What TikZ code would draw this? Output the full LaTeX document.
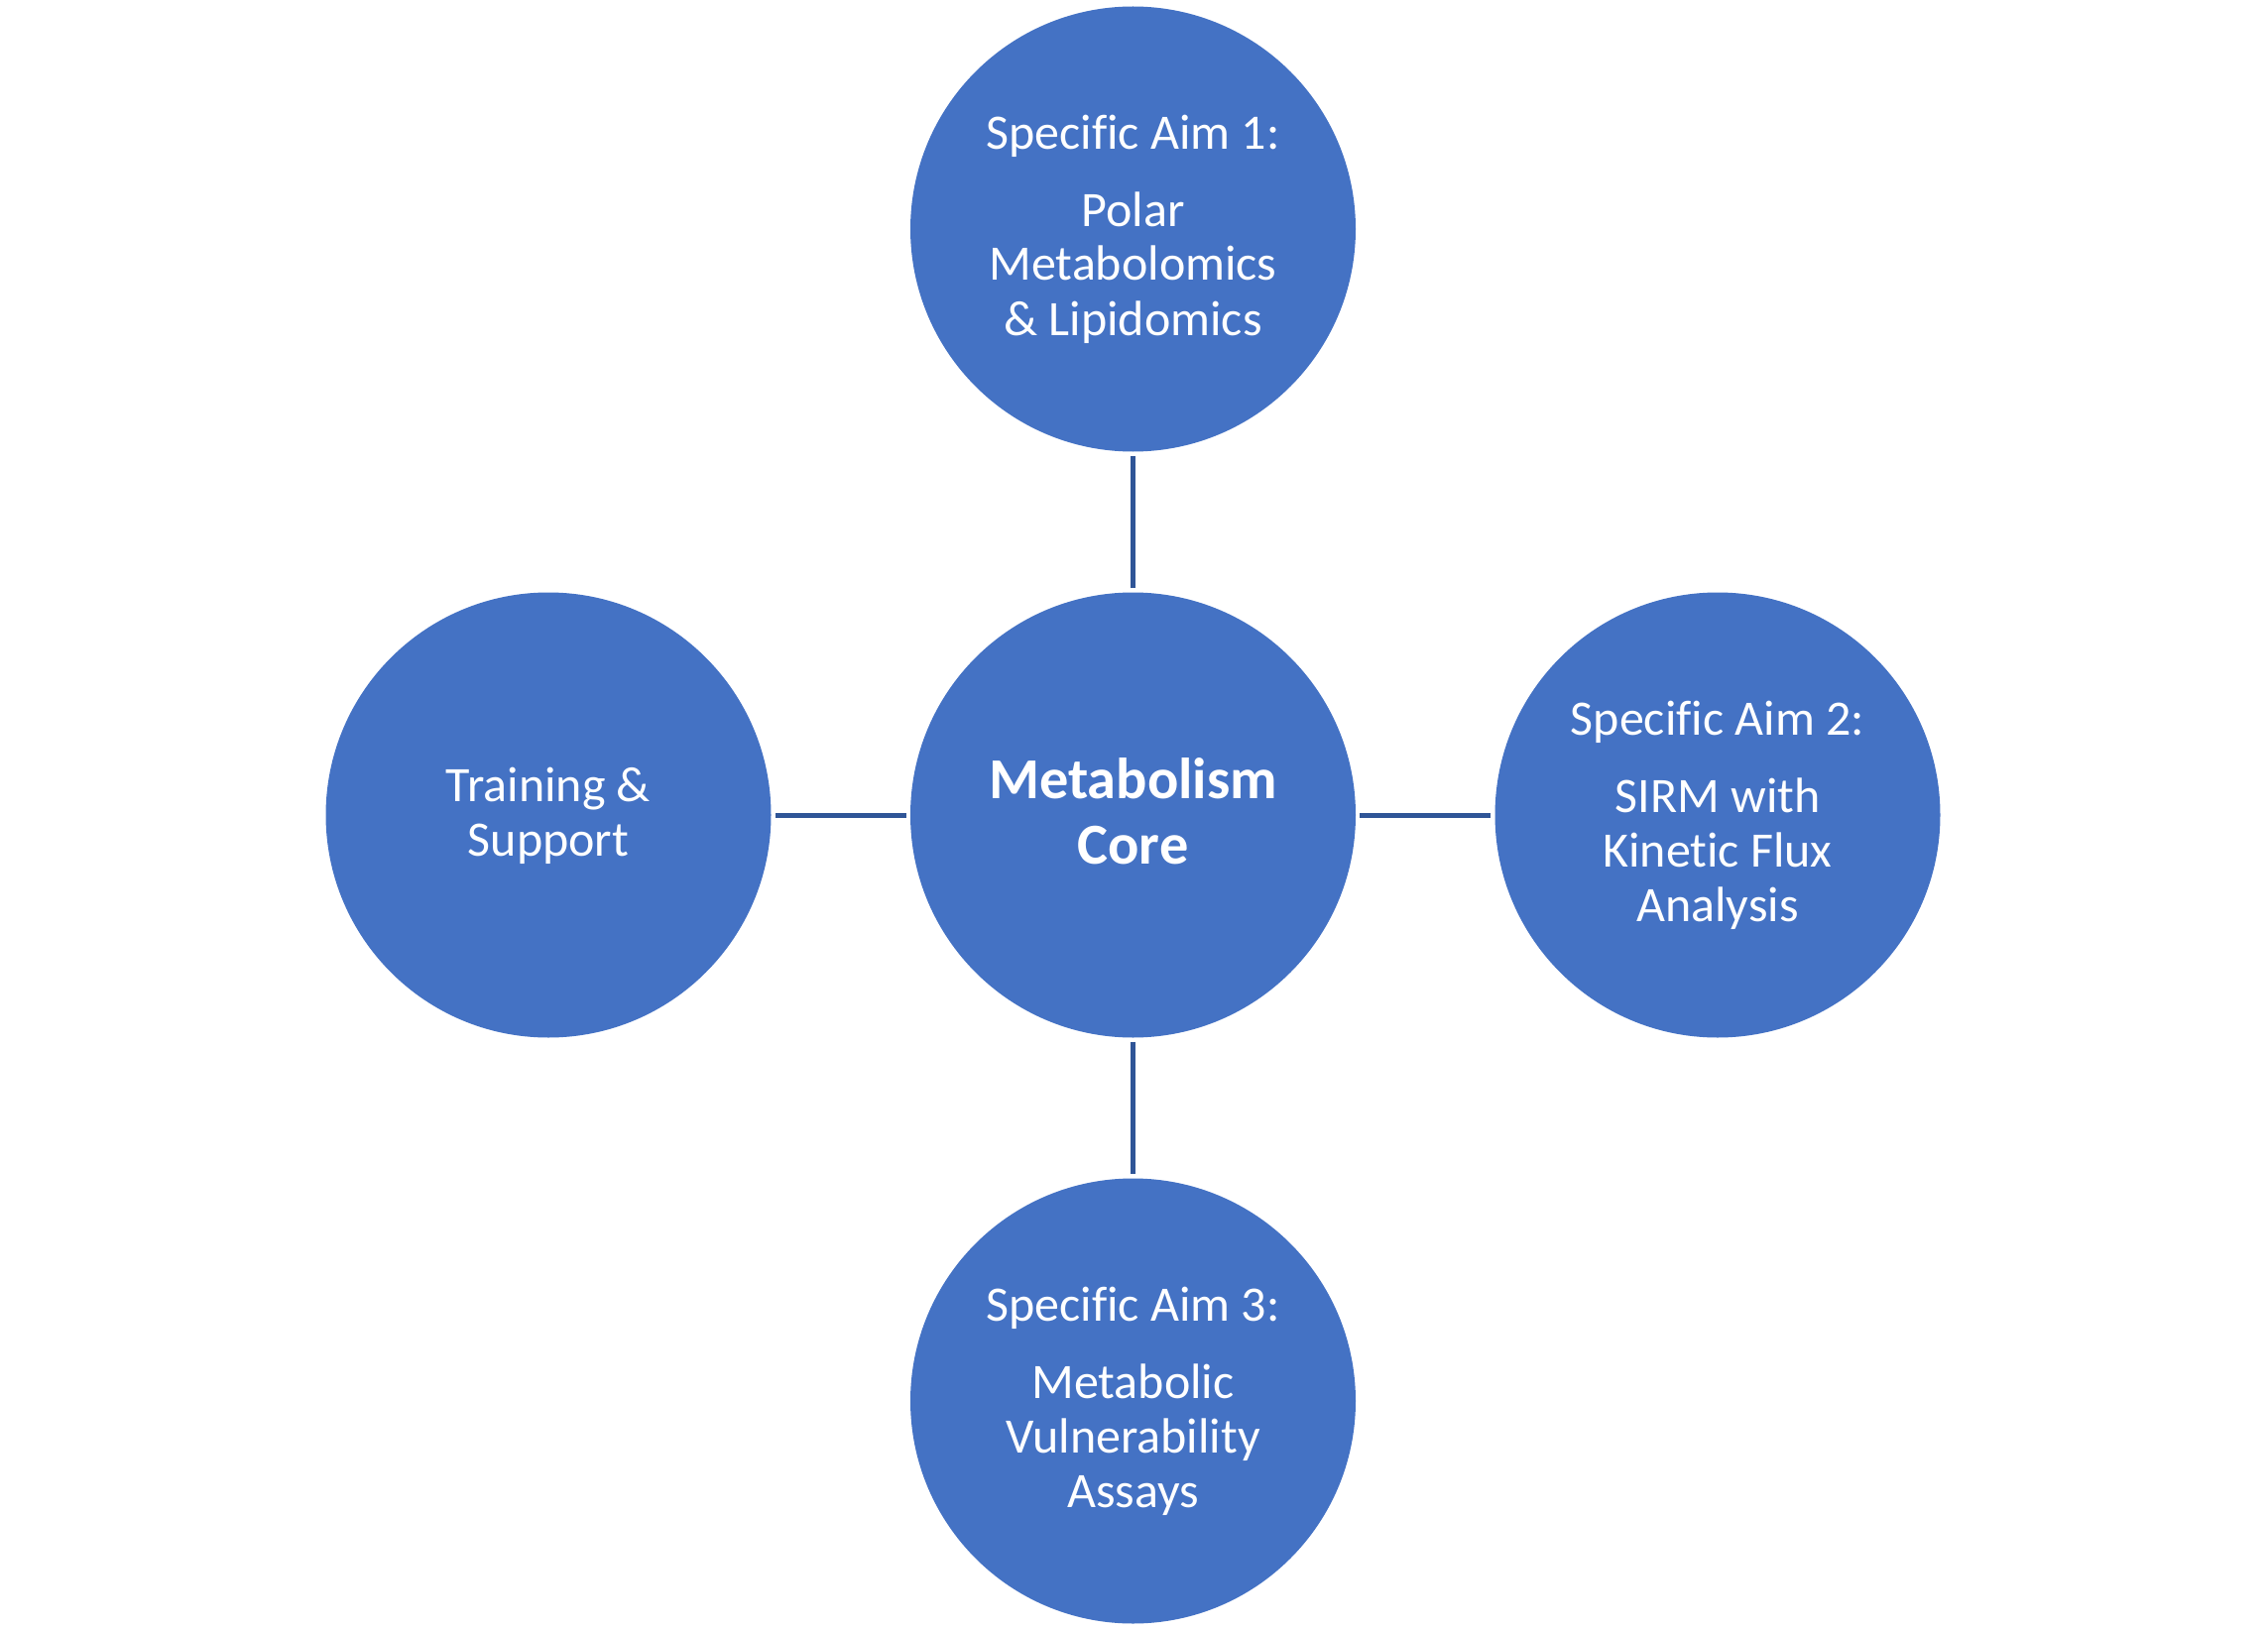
\documentclass[tikz,border=0pt]{standalone}
\usepackage{fontspec}
\setmainfont[Ligatures=NoCommon]{Carlito}
\definecolor{circfill}{HTML}{4472C4}
\definecolor{linkcol}{HTML}{2F5597}
\begin{document}
\begin{tikzpicture}[x=1pt,y=-1pt,
  bubble/.style={circle,fill=circfill,draw=none,minimum size=449pt,inner sep=0pt},
  lbl/.style={text=white,align=center,inner sep=0pt,font=\fontsize{50}{55}\selectfont,anchor=base},
  corelbl/.style={text=white,align=center,inner sep=0pt,font=\bfseries\fontsize{58.4}{66}\selectfont,anchor=base},
  link/.style={draw=linkcol,line width=5pt,shorten >=4pt,shorten <=4pt}]
\useasboundingbox (0,0) rectangle (2287,1645);
\node[bubble] (core) at (1142.5,822) {};
\node[bubble] (aim1) at (1142.5,231) {};
\node[bubble] (aim2) at (1732,822) {};
\node[bubble] (aim3) at (1142.5,1413) {};
\node[bubble] (train) at (553,822) {};
\draw[link] (core.north) -- (aim1.south);
\draw[link] (core.east) -- (aim2.west);
\draw[link] (core.south) -- (aim3.north);
\draw[link] (core.west) -- (train.east);
\node[corelbl] (coretxt) at (1142.5,871) {Metabolism\\Core};
\node[lbl] (aim1txt) at (1142.5,338) {Specific Aim 1:\\[23pt]Polar\\Metabolomics\\\& Lipidomics};
\node[lbl] (aim2txt) at (1732,929) {Specific Aim 2:\\[23pt]SIRM with\\Kinetic Flux\\Analysis};
\node[lbl] (aim3txt) at (1142.5,1520) {Specific Aim 3:\\[23pt]Metabolic\\Vulnerability\\Assays};
\node[lbl] (traintxt) at (553,863) {Training \&\\Support};
\end{tikzpicture}
\end{document}
